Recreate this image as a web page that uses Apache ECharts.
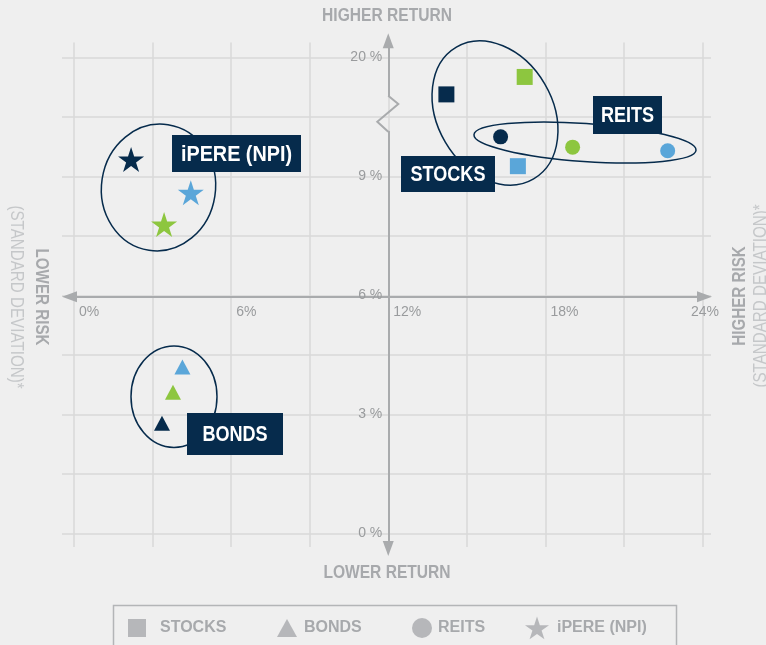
<!DOCTYPE html>
<html><head><meta charset="utf-8">
<script src="https://cdn.jsdelivr.net/npm/echarts@6/dist/echarts.min.js"></script>
<style>html,body{margin:0;padding:0;background:#efefef;}#c{width:766px;height:645px;}</style>
</head><body><div id="c"></div>
<script>
// ---------- data ----------
const groups = ['STOCKS', 'BONDS', 'REITS', 'iPERE (NPI)'];
const pointColors = ['#062b4c', '#8dc63f', '#5aa6d9']; // navy, green, blue
// risk = standard deviation (%), ret = return on the chart's (broken) return scale
const stocksRisk = [14.22, 17.21, 16.95];
const stocksRet  = [11.07, 11.51, 9.26];
const bondsRisk  = [3.36, 3.78, 4.14];
const bondsRet   = [2.78, 3.56, 4.20];
const reitsRisk  = [16.29, 19.04, 22.67];
const reitsRet   = [10.00, 9.74, 9.65];
const npiRisk    = [2.18, 3.44, 4.46];
const npiRet     = [9.43, 7.79, 8.59];
const xTickValues = [0, 6, 12, 18, 24];
const xTickLabels = ['0%', '6%', '12%', '18%', '24%'];
const yTickValues = [0, 3, 6, 9, 12];
const yTickLabels = ['0 %', '3 %', '6 %', '9 %', '20 %'];

// ---------- style / layout ----------
const FONT = "'Liberation Sans', Arial, sans-serif";
const NARROW = 0.82; // horizontal squeeze to imitate a condensed face
const GRAY = '#a7a9ac';
const LIGHT = '#c5c7c9';
const GRID_C = '#d8d8d8';
const AXIS_C = '#a9abad';
const NAVY = '#062b4c';
const W = 766, H = 645;
const P = {left: 74, right: 702.5, top: 57.5, bottom: 533.5};
const axisLineY = 296.7;   // horizontal axis (6% return)
const axisLineX = 388.25;  // vertical axis (12% risk)
const STAR = 'path://M50 0L61.23 34.55L97.55 34.55L68.16 55.9L79.39 90.45L50 69.1L20.61 90.45L31.84 55.9L2.45 34.55L38.77 34.55Z';

const chart = echarts.init(document.getElementById('c'), null, {width: W, height: H});

function pts(risk, ret) {
  return risk.map((r, i) => ({value: [r, ret[i]], itemStyle: {color: pointColors[i], opacity: 1}}));
}
function hidden(gi) { return {gridIndex: gi, type: 'value', show: false, min: 0, max: 1}; }
function match(list, labels, v) {
  for (let i = 0; i < list.length; i++) if (Math.abs(list[i] - v) < 1e-6) return labels[i];
  return '';
}
const lineAxisBase = {type: 'value', min: 0, max: 1, axisTick: {show: false}, axisLabel: {show: false}, splitLine: {show: false}};
const arrowLine = (sym) => ({show: true, onZero: false, symbol: sym, symbolSize: [11, 15], lineStyle: {color: AXIS_C, width: 2}});

const grids = [
  {left: P.left, right: W - P.right, top: P.top, bottom: H - P.bottom},            // 0 data
  {left: 62, right: W - 711, top: P.top, bottom: H - P.bottom},                    // 1 horizontal gridlines
  {left: P.left, right: W - P.right, top: 42.5, bottom: H - 547},                  // 2 vertical gridlines
  {left: 69.5, right: W - 704.5, top: 100, height: axisLineY - 100},               // 3 x-axis line
  {left: 300, width: axisLineX - 300, top: 131.7, height: 548.5 - 131.7},          // 4 y-axis line lower
  {left: 300, width: axisLineX - 300, top: 40.8, height: 95.7 - 40.8}              // 5 y-axis line upper
].map(g => Object.assign({containLabel: false, outerBoundsMode: 'none'}, g));

const tickLabelStyle = {color: '#999b9d', fontSize: 14, fontFamily: FONT};

const option = {
  backgroundColor: '#efefef',
  animation: false,
  grid: grids,
  xAxis: [
    {gridIndex: 0, type: 'value', min: 0, max: 24, interval: 3, position: 'bottom',
     offset: -(P.bottom - axisLineY),
     axisLine: {show: false, onZero: false}, axisTick: {show: false}, splitLine: {show: false},
     axisLabel: Object.assign({show: true, formatter: v => match(xTickValues, xTickLabels, v), align: 'left',
       alignMaxLabel: 'center', padding: [0, 0, 0, 5], margin: 8}, tickLabelStyle)},
    hidden(1),
    {gridIndex: 2, type: 'value', min: 0, max: 24, interval: 3, axisLine: {show: false}, axisTick: {show: false},
     axisLabel: {show: false}, splitLine: {show: true, lineStyle: {color: GRID_C, width: 1.5}}},
    Object.assign({gridIndex: 3, position: 'bottom', axisLine: arrowLine(['triangle', 'triangle'])}, lineAxisBase),
    hidden(4),
    hidden(5)
  ],
  yAxis: [
    {gridIndex: 0, type: 'value', min: 0, max: 12, interval: 1.5, position: 'left',
     offset: -(axisLineX - P.left),
     axisLine: {show: false, onZero: false}, axisTick: {show: false}, splitLine: {show: false},
     axisLabel: Object.assign({show: true, formatter: v => match(yTickValues, yTickLabels, v), margin: 6,
       verticalAlign: 'middle', padding: [0, 0, 10, 0]}, tickLabelStyle)},
    {gridIndex: 1, type: 'value', min: 0, max: 12, interval: 1.5, axisLine: {show: false}, axisTick: {show: false},
     axisLabel: {show: false}, splitLine: {show: true, lineStyle: {color: GRID_C, width: 1.5}}},
    hidden(2),
    hidden(3),
    Object.assign({gridIndex: 4, position: 'right', axisLine: arrowLine(['triangle', 'none'])}, lineAxisBase),
    Object.assign({gridIndex: 5, position: 'right', axisLine: arrowLine(['none', 'triangle'])}, lineAxisBase)
  ],
  legend: [
    {name: 'STOCKS', icon: 'rect', left: 128, w: 18, h: 18, pad: 9},
    {name: 'BONDS', icon: 'triangle', left: 277, w: 20, h: 18, pad: 2},
    {name: 'REITS', icon: 'circle', left: 412, w: 20, h: 20, pad: 1},
    {name: 'iPERE (NPI)', icon: STAR, left: 525, w: 24, h: 23, pad: 3}
  ].map(l => ({
    data: [{name: l.name, icon: l.icon, itemStyle: {color: GRAY}}],
    left: l.left, top: 628 - l.h / 2, padding: 0, itemWidth: l.w, itemHeight: l.h,
    selectedMode: false,
    textStyle: {color: GRAY, fontSize: 16, fontWeight: 'bold', fontFamily: FONT, padding: [0, 0, 0, l.pad]}
  })),
  series: [
    {name: groups[0], type: 'scatter', xAxisIndex: 0, yAxisIndex: 0, z: 5, symbol: 'rect', symbolSize: 16, data: pts(stocksRisk, stocksRet)},
    {name: groups[1], type: 'scatter', xAxisIndex: 0, yAxisIndex: 0, z: 5, symbol: 'triangle', symbolSize: [16, 15], data: pts(bondsRisk, bondsRet)},
    {name: groups[2], type: 'scatter', xAxisIndex: 0, yAxisIndex: 0, z: 5, symbol: 'circle', symbolSize: 15, data: pts(reitsRisk, reitsRet)},
    {name: groups[3], type: 'scatter', xAxisIndex: 0, yAxisIndex: 0, z: 5, symbol: STAR, symbolSize: [26, 25], data: pts(npiRisk, npiRet)}
  ],
  graphic: []
};

// ---------- annotations ----------
const g = [];
// axis break zigzag
g.push({type: 'polyline', z: 3, shape: {points: [[axisLineX, 131.7], [377.3, 121.7], [398.3, 104], [axisLineX, 95.7]]},
  style: {stroke: AXIS_C, lineWidth: 2, fill: null}});
// axis titles
const title = (text, x, y, rot, color, weight, size) => ({type: 'text', z: 3, x: x, y: y, rotation: rot,
  scaleX: NARROW, scaleY: 1,
  style: {text: text, fill: color, font: weight + ' ' + size + 'px ' + FONT, align: 'center', verticalAlign: 'middle'}});
g.push(title('HIGHER RETURN', 387, 16, 0, GRAY, 'bold', 19));
g.push(title('LOWER RETURN', 387, 573, 0, GRAY, 'bold', 19));
g.push(title('LOWER RISK', 41, 297, -Math.PI / 2, GRAY, 'bold', 18.5));
g.push(title('(STANDARD DEVIATION)*', 16, 297, -Math.PI / 2, LIGHT, 'normal', 18.5));
g.push(title('HIGHER RISK', 740, 296, Math.PI / 2, GRAY, 'bold', 18.5));
g.push(title('(STANDARD DEVIATION)*', 761, 296, Math.PI / 2, LIGHT, 'normal', 18.5));
// group ellipses
const ell = (cx, cy, rx, ry, rot) => ({type: 'ellipse', z: 4, x: cx, y: cy, rotation: rot,
  shape: {cx: 0, cy: 0, rx: rx, ry: ry}, style: {stroke: NAVY, lineWidth: 1.5, fill: null}});
g.push(ell(158.5, 187.5, 57, 63.5, -0.15));
g.push(ell(495, 113, 57.6, 76.4, 0.53));
g.push(ell(585, 142.5, 111.3, 19, -0.07));
g.push(ell(174, 396.7, 43, 50.7, 0));
// group name boxes
const box = (text, x, y, w, h, sx) => [
  {type: 'rect', z: 10, shape: {x: x, y: y, width: w, height: h}, style: {fill: NAVY}},
  {type: 'text', z: 11, x: x + w / 2, y: y + h / 2 + 1, scaleX: sx, scaleY: 1,
   style: {text: text, fill: '#ffffff', font: 'bold 22px ' + FONT, align: 'center', verticalAlign: 'middle'}}
];
g.push(...box('iPERE (NPI)', 172, 135, 129, 37, 0.9));
g.push(...box('REITS', 593, 96, 69, 38, NARROW));
g.push(...box('STOCKS', 401, 156, 94, 36, NARROW));
g.push(...box('BONDS', 187, 413, 96, 42, NARROW));
// legend frame
g.push({type: 'rect', z: 1, shape: {x: 113.5, y: 605.5, width: 563, height: 60}, style: {stroke: '#b3b5b7', lineWidth: 1.5, fill: null}});
option.graphic = g;

chart.setOption(option);
</script>
</body></html>
